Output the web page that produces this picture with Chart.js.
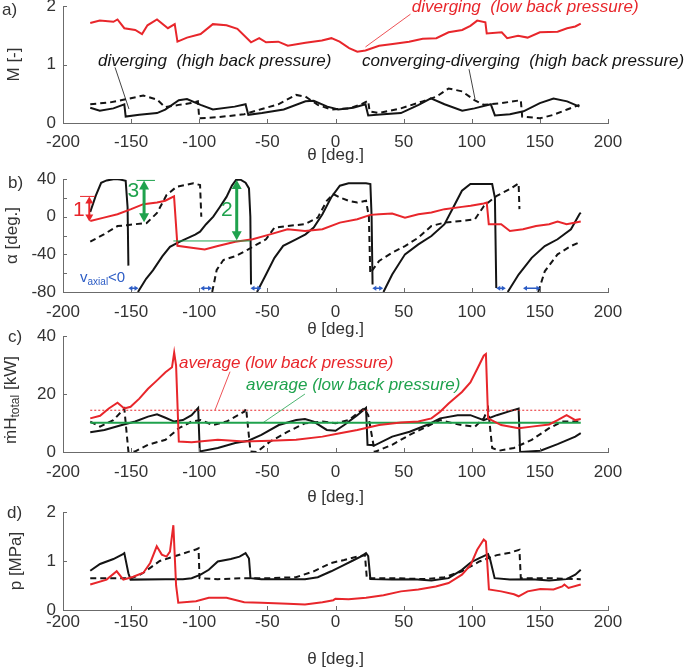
<!DOCTYPE html>
<html>
<head>
<meta charset="utf-8">
<script src="https://cdn.jsdelivr.net/npm/chart.js@4.4.1/dist/chart.umd.min.js"></script>
<style>
  body { margin: 0; background: #fff; width: 685px; height: 669px; overflow: hidden; position: relative; }
  canvas { position: absolute; left: 0; }
</style>
</head>
<body>
<canvas id="pa"></canvas>
<canvas id="pb"></canvas>
<canvas id="pc"></canvas>
<canvas id="pd"></canvas>
<script>
// ---- data (theta in deg.) ----
const thetaTicks = [-200, -150, -100, -50, 0, 50, 100, 150, 200];

// a) Mach number
const aLowT = [-180,-173,-163,-160,-155,-147,-142,-138,-131,-123,-118,-116,-109,-99,-90,-80,-72,-62,-56,-51,-42,-35,-22,-10,-3,3,10,16,22,32,42,54,64,74,83,93,99,104,110,111,122,126,134,141,150,163,170,176,180];
const aLowM = [1.71,1.75,1.73,1.77,1.62,1.59,1.52,1.67,1.77,1.62,1.69,1.39,1.46,1.52,1.69,1.67,1.61,1.38,1.45,1.38,1.39,1.32,1.37,1.41,1.45,1.39,1.28,1.22,1.24,1.32,1.35,1.39,1.44,1.45,1.55,1.59,1.66,1.75,1.72,1.53,1.55,1.45,1.49,1.46,1.55,1.56,1.62,1.65,1.70];
const aDivT = [-180,-173,-163,-155,-154,-144,-131,-125,-115,-109,-99,-90,-74,-66,-64,-54,-38,-22,-16,-6,2,13,22,24,35,48,61,70,80,93,102,114,117,128,138,150,160,170,179];
const aDivM = [0.26,0.21,0.25,0.32,0.11,0.14,0.17,0.23,0.39,0.41,0.31,0.23,0.28,0.32,0.14,0.17,0.23,0.37,0.38,0.28,0.23,0.26,0.32,0.13,0.15,0.17,0.31,0.42,0.32,0.21,0.25,0.32,0.13,0.15,0.2,0.34,0.42,0.37,0.28];
const aCdT = [-180,-166,-155,-141,-131,-125,-115,-106,-101,-100,-86,-67,-54,-42,-29,-22,-13,-3,10,19,24,25,32,48,64,74,83,93,102,109,122,136,137,150,160,170,179];
const aCdM = [0.32,0.35,0.40,0.47,0.40,0.27,0.31,0.34,0.37,0.08,0.10,0.15,0.24,0.32,0.48,0.45,0.31,0.23,0.25,0.32,0.38,0.20,0.17,0.25,0.37,0.45,0.59,0.54,0.39,0.31,0.34,0.39,0.11,0.08,0.14,0.23,0.31];

// b) flow angle (null = gap)
const bLowT = [-180,-170,-160,-150,-141,-131,-125,-118.5,-116,-105.6,-96,-86.4,-73.6,-60.8,-48,-35.2,-22.4,-9.6,3.2,16,25.6,32,41.6,51,60.8,70.4,80,92.8,99.2,108.8,111,112.5,121.6,128,137.6,147.2,156.8,163,169.6,180];
const bLowA = [-4.5,-1,2.6,8,13.3,15.1,16.9,21.5,-31,-33,-34.8,-31.2,-26.6,-24,-18.8,-13.4,-15.2,-13.4,-6.3,-2.7,1.9,2.6,3.3,-1,2.6,4.4,8,10.4,11.5,14,15,-8,-8,-15.2,-13.4,-9.9,-8,-5.2,-8,-5.2];
const bDivT = [-180,-176,-172,-168,-162,-158,-154,-152.6,-152,-149,-145,-139,-134,-127,-121.5,-115,-109,-103,-99.4,-95,-89.7,-85,-80,-76,-73,-70,-66,-63.5,-62.5,-62,-60,-57.6,-51,-44.8,-38.4,-29,-22,-16,-9.6,-3.2,3.2,9.6,22.4,25.6,26.5,27.2,31,35.2,41.6,51,60.8,70.4,80,86.4,92.8,99,115,117,118,122,126.4,134.4,144,153.6,163,172.8,179,180];
const bDivA = [5,22,36,38.5,40,39.5,38,10,-52,null,-80,-66,-57,-42,-32,-27,-23,-19,-16,-8,0,10,21,33,39,39.5,36,30,0,-72,null,-80,-61.5,-43.7,-31,-24,-18.8,-11.6,2.6,20.4,32.9,35.4,35.4,34.7,0,-72,null,-80,-61.5,-40,-29.4,-20.5,-8,9.7,27.5,34.7,34.7,20,-75.7,null,-80,-61.5,-43.7,-31.2,-24,-13.4,2.6,4.4];
const bCdT = [-180,-170,-160,-153,-147,-138.6,-131,-124,-116.6,-104.4,-99.4,-98.5,-95,-90.5,-87.2,-82.3,-73.6,-64,-57.6,-51,-44.8,-35,-22.4,-13,-6.4,-1.6,3.2,9.6,16,22.4,24.5,25.5,28,32,41.6,51,60.8,70.4,80,92.8,102.4,109,118.4,128,134.4,135,140,148.8,153.6,163,172.8,180];
const bCdA = [-26.6,-18.8,-10,-9,-8,-6.8,3.9,23,31.8,35.4,33.6,0,null,-80,-56.6,-46,-42,-34.8,-29.4,-24,-11.6,-9.9,-8,-1,16.9,24,20.4,16.9,15,16.9,0,-60,-55,-47,-38.3,-31.2,-22.3,-9.9,-6.3,-4.5,-2.7,11.5,22.2,29.3,35.4,8,null,-80,-58,-40,-31.2,-26.6];

// c) enthalpy flow [kW]
const cLowT = [-180,-172.8,-166.4,-160,-155,-150.4,-144,-137.6,-131,-124.8,-120,-118.4,-117,-115,-105.6,-86.4,-67,-48,-29,-9.6,3.2,16,32,48,60.8,70.4,76.8,83,92.8,99,104,108.8,110.4,112,121.6,134.4,144,156.8,163,169.6,176,180];
const cLowV = [11.6,12.5,15,17,15,15.6,18.4,21.8,24.7,27.5,29.2,34.3,29.8,3.6,3.4,4.2,3.6,3.9,4.2,5.3,6.5,7.6,9.3,10.2,10.5,11.6,13.9,16.7,20.7,24,28.6,33.2,33.8,11.6,9.3,8.2,8.75,9.5,11,12.7,11,11.4];
const cDivT = [-180,-169.6,-156.8,-147,-137.6,-131,-124.8,-118.4,-112,-105.6,-100.8,-99.6,-86.4,-73.6,-64,-54.4,-41.6,-28.8,-22.4,-16,-6.4,0,6.4,16,22.4,23.5,28.8,41.6,54.4,67,76.8,89.6,99,108.8,118.4,128,134.4,135.5,150.4,163,176,180];
const cDivV = [6.8,7.6,9.3,10.5,12.2,13,11.8,10.5,11,12.7,15.2,0.2,1.4,3.1,3.9,5.9,9.3,11,11.4,10.5,7.6,7.3,9.3,12.7,15.2,2.5,2.3,5.3,7,9.3,11.6,12.7,12.7,11,12.7,14.1,15,0,0.45,2.7,5.3,6.5];
const cCdT = [-180,-172.8,-163,-155,-152,-147,-137.6,-124.8,-115,-105.6,-99,-90,-80,-67,-65.6,-62.4,-57.6,-48,-35,-22.4,-9.6,0,9.6,20.8,24,28.8,41.6,54.4,67,76.8,86.4,92.8,102.4,108.8,112,115,120,131,144,156.8,166.4,180];
const cCdV = [10.5,8.75,11,15,0.2,0.2,2.5,4.2,8.2,10.5,11,9.3,10.5,13.9,15,0.2,0,3.6,7,9.9,10.5,9.9,11,15,12.7,0,2.5,5.9,8.75,11,9.9,9.3,8.75,11.6,15,1.4,0.45,1.4,4.2,8.2,10.5,10.5];
const cAvgT = [-180, 180];
const cAvgLow = [14.4, 14.4];
const cAvgHigh = [10.1, 10.1];

// d) pressure [MPa]
const dLowT = [-180,-168,-160.6,-155.7,-148.4,-141,-136,-131.2,-127.5,-124,-121.5,-119,-117,-115.4,-102.4,-93,-80,-67,-54.4,-35,-22.4,-9.6,-1.6,0,9.6,22.4,35.2,48,60.8,73.6,83,92.8,99.2,104,108.8,110.4,112.6,121.6,131,134.4,141,150.4,160,166.4,168,171,180];
const dLowP = [0.52,0.62,0.79,0.62,0.68,0.76,0.96,1.3,1.13,1.09,1.19,1.73,0.5,0.15,0.18,0.25,0.25,0.16,0.15,0.13,0.11,0.16,0.2,0.23,0.22,0.25,0.3,0.38,0.42,0.48,0.55,0.72,0.92,1.23,1.44,1.4,0.42,0.38,0.32,0.28,0.38,0.43,0.42,0.48,0.52,0.45,0.52];
const dDivT = [-180,-172.8,-163,-156,-155,-152,-150.4,-124.8,-112,-105.6,-99,-93,-86.4,-76.8,-70.4,-66,-63.5,-62.4,-54.4,-38.4,-22.4,-13,-3.2,6.4,12.8,19.2,22.4,24,25.6,41.6,57.6,70.4,83,92.8,99.2,105.6,112,113.6,116.8,128,144,156.8,169.6,176,180];
const dDivP = [0.8,0.94,1.04,1.14,1.16,0.75,0.62,0.63,0.63,0.65,0.72,0.82,0.99,1.04,1.09,1.16,1.05,0.65,0.63,0.63,0.63,0.67,0.79,0.92,1.01,1.1,1.16,1.1,0.63,0.62,0.63,0.6,0.65,0.82,0.97,1.06,1.14,1.02,0.65,0.62,0.63,0.6,0.63,0.72,0.82];
const dCdT = [-180,-150,-145,-141,-135,-129,-121,-112,-102,-100.5,-99.8,-86.4,-67,-48,-29,-16,-3.2,6.4,16,21.6,23,41.6,67,80,92.8,105.6,118.4,128,135,136,153.6,180];
const dCdP = [0.65,0.65,0.7,0.76,0.88,1.0,1.07,1.15,1.24,1.26,0.65,0.63,0.65,0.65,0.67,0.79,0.96,1.02,1.09,1.12,0.65,0.65,0.63,0.67,0.79,0.99,1.12,1.17,1.23,0.65,0.65,0.63];

// ---- styles ----
const FAM = '"Liberation Sans", Arial, sans-serif';
const RED = '#e8262b', BLK = '#141414', GRN = '#1fa24d', BLUE = '#2c5cc5';
const AXIS = '#6b6b6b', TXT = '#333';
const tickFont = { family: FAM, size: 17 };
const noteFont = 'italic 17px ' + FAM;

function line(xs, ys, color, dashed, width) {
  return {
    data: xs.map((t, i) => ({ x: t, y: ys[i] })),
    borderColor: color, borderWidth: width || 2,
    borderDash: dashed ? [6, 4] : [],
    pointRadius: 0, tension: 0, spanGaps: false, fill: false
  };
}

// inward ticks, panel tags and annotations
const notes = {
  id: 'notes',
  afterDraw(chart, args, o) {
    const { ctx, chartArea: ca, scales: { x, y } } = chart;
    const X = v => x.getPixelForValue(v), Y = v => y.getPixelForValue(v);
    ctx.save();
    ctx.strokeStyle = AXIS; ctx.lineWidth = 1;
    thetaTicks.forEach(v => {
      const px = Math.round(X(v)) + 0.5;
      ctx.beginPath(); ctx.moveTo(px, ca.bottom); ctx.lineTo(px, ca.bottom - 4); ctx.stroke();
    });
    for (let v = y.min; v <= y.max + 1e-9; v += o.yMinor) {
      const py = Math.round(Y(v)) + 0.5;
      ctx.beginPath(); ctx.moveTo(ca.left, py); ctx.lineTo(ca.left + 4, py); ctx.stroke();
    }
    // panel tag
    ctx.fillStyle = TXT; ctx.font = '17px ' + FAM; ctx.textBaseline = 'middle'; ctx.textAlign = 'left';
    ctx.fillText(o.tag, o.tagX, ca.top + o.tagDy);

    (o.items || []).forEach(it => {
      ctx.save();
      if (it.t === 'text') {
        ctx.fillStyle = it.c; ctx.font = it.f || noteFont;
        ctx.textAlign = it.a || 'left'; ctx.textBaseline = 'middle';
        ctx.fillText(it.s, X(it.x), Y(it.y));
      } else if (it.t === 'line') {
        ctx.strokeStyle = it.c; ctx.lineWidth = it.w || 1;
        ctx.setLineDash(it.d || []);
        ctx.beginPath();
        it.p.forEach((p, i) => i ? ctx.lineTo(X(p[0]), Y(p[1])) : ctx.moveTo(X(p[0]), Y(p[1])));
        ctx.stroke();
      } else if (it.t === 'varrow' || it.t === 'harrow') {
        const vert = it.t === 'varrow';
        const a = vert ? [X(it.x), Y(it.y1)] : [X(it.x1), Y(it.y)];
        const b = vert ? [X(it.x), Y(it.y2)] : [X(it.x2), Y(it.y)];
        const h = it.h || 8, hw = (it.hw || 5);
        ctx.strokeStyle = it.c; ctx.fillStyle = it.c; ctx.lineWidth = it.w || 2;
        ctx.beginPath();
        if (vert) { ctx.moveTo(a[0], a[1] + h - 1); ctx.lineTo(b[0], b[1] - h + 1); }
        else { ctx.moveTo(a[0] + h - 1, a[1]); ctx.lineTo(b[0] - h + 1, b[1]); }
        ctx.stroke();
        const head = (p, dx, dy) => {
          ctx.beginPath(); ctx.moveTo(p[0], p[1]);
          if (vert) { ctx.lineTo(p[0] - hw, p[1] + dy * h); ctx.lineTo(p[0] + hw, p[1] + dy * h); }
          else { ctx.lineTo(p[0] + dx * h, p[1] - hw); ctx.lineTo(p[0] + dx * h, p[1] + hw); }
          ctx.closePath(); ctx.fill();
        };
        head(a, 1, 1); head(b, -1, -1);
      } else if (it.t === 'rich') {
        // text with subscript, optionally rotated
        ctx.fillStyle = it.c; ctx.textBaseline = 'middle'; ctx.textAlign = 'left';
        const px = it.px != null ? it.px : X(it.x);
        const py = it.rot ? (ca.top + ca.bottom) / 2 + (it.dy || 0) : Y(it.y);
        ctx.translate(px, py);
        if (it.rot) ctx.rotate(-Math.PI / 2);
        let w = 0;
        it.parts.forEach(p => { ctx.font = p[1]; w += ctx.measureText(p[0]).width; });
        let cx = it.rot ? -w / 2 : 0;
        it.parts.forEach(p => { ctx.font = p[1]; ctx.fillText(p[0], cx, p[2] || 0); cx += ctx.measureText(p[0]).width; });
      }
      ctx.restore();
    });
    ctx.restore();
  }
};

function panel(id, cfg) {
  const cv = document.getElementById(id);
  cv.width = 685; cv.height = cfg.h; cv.style.top = cfg.top + 'px';
  return new Chart(cv, {
    type: 'line',
    data: { datasets: cfg.sets },
    options: {
      responsive: false, animation: false,
      layout: { padding: { top: 24, right: 77, left: 0, bottom: 0 } },
      plugins: { legend: { display: false }, tooltip: { enabled: false }, notes: cfg.notes },
      scales: {
        x: {
          type: 'linear', min: -200, max: 200,
          grid: { display: false, drawTicks: false },
          border: { color: AXIS, width: 1 },
          ticks: { stepSize: 50, padding: cfg.xPad, color: TXT, font: tickFont, maxRotation: 0 },
          title: { display: true, text: 'θ [deg.]', color: TXT, font: tickFont, padding: 0 },
          afterFit: s => { s.height = cfg.xH; }
        },
        y: {
          min: cfg.yMin, max: cfg.yMax,
          grid: { display: false, drawTicks: false },
          border: { color: AXIS, width: 1 },
          ticks: { stepSize: cfg.yStep, padding: 7, color: TXT, font: tickFont },
          title: { display: !!cfg.yTitle, text: cfg.yTitle, color: TXT, font: tickFont, padding: { top: cfg.yTitlePad, bottom: 0 } },
          afterFit: s => { s.width = 63; }
        }
      }
    },
    plugins: [notes]
  });
}

// a)
panel('pa', {
  top: -18, h: 184, xH: 43, xPad: 9, yMin: 0, yMax: 2, yStep: 1, yTitle: 'M [-]', yTitlePad: 4,
  sets: [line(aLowT, aLowM, RED), line(aDivT, aDivM, BLK), line(aCdT, aCdM, BLK, true)],
  notes: {
    tag: 'a)', tagX: 2, tagDy: 4, yMinor: 1,
    items: [
      { t: 'text', x: 56, y: 1.98, s: 'diverging  (low back pressure)', c: RED },
      { t: 'line', p: [[55, 1.86], [22, 1.3]], c: RED, w: 0.8 },
      { t: 'text', x: -174.3, y: 1.05, s: 'diverging  (high back pressure)', c: BLK },
      { t: 'line', p: [[-161.8, 0.95], [-151.6, 0.24]], c: BLK, w: 0.8 },
      { t: 'text', x: 19.4, y: 1.05, s: 'converging-diverging  (high back pressure)', c: BLK },
      { t: 'line', p: [[98, 0.92], [102.4, 0.41]], c: BLK, w: 0.8 }
    ]
  }
});

// b)
panel('pb', {
  top: 155, h: 185, xH: 48, xPad: 10, yMin: -80, yMax: 40, yStep: 40, yTitle: 'α [deg.]', yTitlePad: 2,
  sets: [line(bLowT, bLowA, RED), line(bDivT, bDivA, BLK), line(bCdT, bCdA, BLK, true)],
  notes: {
    tag: 'b)', tagX: 8, tagDy: 4, yMinor: 20,
    items: [
      { t: 'line', p: [[-187.5, 21.5], [-176.5, 21.5]], c: RED, w: 1 },
      { t: 'varrow', x: -180.7, y1: 21.5, y2: -5, c: RED, w: 2, h: 7, hw: 4 },
      { t: 'text', x: -184, y: 7, s: '1', c: RED, f: '21px ' + FAM, a: 'right' },
      { t: 'line', p: [[-146, 38.5], [-132.5, 38.5]], c: GRN, w: 1 },
      { t: 'varrow', x: -140.5, y1: 38.5, y2: -6, c: GRN, w: 3, h: 9, hw: 5 },
      { t: 'text', x: -144, y: 27, s: '3', c: GRN, f: '21px ' + FAM, a: 'right' },
      { t: 'line', p: [[-119, -25.8], [-62.7, -25.8]], c: GRN, w: 1 },
      { t: 'varrow', x: -72.5, y1: 39, y2: -25, c: GRN, w: 3, h: 9, hw: 5 },
      { t: 'text', x: -75.5, y: 7, s: '2', c: GRN, f: '21px ' + FAM, a: 'right' },
      { t: 'rich', x: -187.5, y: -65, c: BLUE, parts: [['v', '15px ' + FAM], ['axial', '10px ' + FAM, 4], ['<0', '15px ' + FAM]] },
      { t: 'harrow', x1: -152, x2: -144.6, y: -76, c: BLUE, w: 1.5, h: 4, hw: 2.5 },
      { t: 'harrow', x1: -99.2, x2: -90.6, y: -76, c: BLUE, w: 1.5, h: 4, hw: 2.5 },
      { t: 'harrow', x1: -62.4, x2: -54.4, y: -76, c: BLUE, w: 1.5, h: 4, hw: 2.5 },
      { t: 'harrow', x1: 27, x2: 35, y: -76, c: BLUE, w: 1.5, h: 4, hw: 2.5 },
      { t: 'harrow', x1: 118, x2: 125, y: -76, c: BLUE, w: 1.5, h: 4, hw: 2.5 },
      { t: 'harrow', x1: 137.6, x2: 150.4, y: -76, c: BLUE, w: 1.5, h: 4, hw: 2.5 }
    ]
  }
});

// c)
panel('pc', {
  top: 312, h: 196, xH: 56, xPad: 10, yMin: 0, yMax: 40, yStep: 20, yTitle: '', yTitlePad: 0,
  sets: [
    line(cLowT, cLowV, RED),
    Object.assign(line(cAvgT, cAvgLow, RED, false, 1), { borderDash: [2, 2] }),
    line(cAvgT, cAvgHigh, GRN, false, 2),
    line(cDivT, cDivV, BLK),
    line(cCdT, cCdV, BLK, true)
  ],
  notes: {
    tag: 'c)', tagX: 8, tagDy: 1, yMinor: 20,
    items: [
      { t: 'rich', px: 11, dy: 6, rot: true, c: TXT, parts: [['ṁH', '17px ' + FAM], ['total', '12px ' + FAM, 5], [' [kW]', '17px ' + FAM]] },
      { t: 'text', x: -114.9, y: 30.7, s: 'average (low back pressure)', c: RED },
      { t: 'line', p: [[-77.4, 27.7], [-88.4, 14.5]], c: RED, w: 0.8 },
      { t: 'text', x: -65.7, y: 23.1, s: 'average (low back pressure)', c: GRN },
      { t: 'line', p: [[-22.4, 20], [-53.2, 10.1]], c: GRN, w: 0.8 }
    ]
  }
});

// d)
panel('pd', {
  top: 488, h: 182, xH: 60, xPad: 2, yMin: 0, yMax: 2, yStep: 1, yTitle: 'p [MPa]', yTitlePad: 6,
  sets: [line(dLowT, dLowP, RED), line(dDivT, dDivP, BLK), line(dCdT, dCdP, BLK, true)],
  notes: { tag: 'd)', tagX: 7, tagDy: 1, yMinor: 1, items: [] }
});
</script>
</body>
</html>
